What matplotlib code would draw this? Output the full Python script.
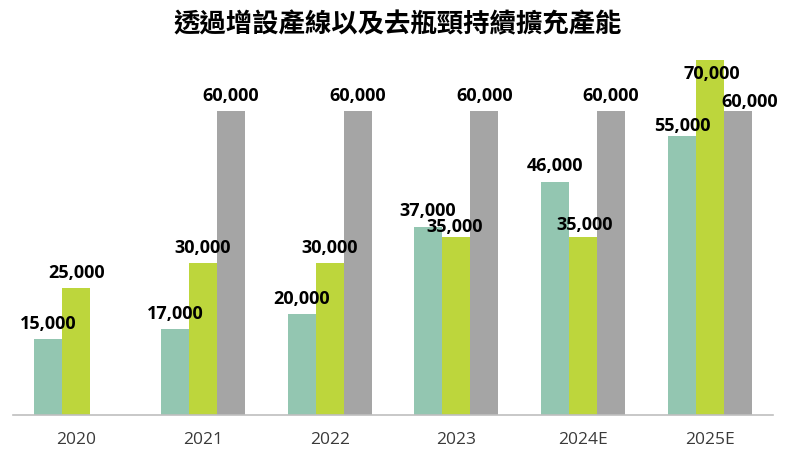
import numpy as np
import matplotlib
matplotlib.use('Agg')
import matplotlib.pyplot as plt

# --- data ---
years = ['2020', '2021', '2022', '2023', '2024E', '2025E']
series_a = [15000, 17000, 20000, 37000, 46000, 55000]   # teal
series_b = [25000, 30000, 30000, 35000, 35000, 70000]   # lime
series_c = [np.nan, 60000, 60000, 60000, 60000, 60000]  # gray

colors = ['#93c6b1', '#bdd63c', '#a5a5a5']

# label nudges (pixels) where the labels were shifted in the original
label_nudge = {
    (0, 3): (-1, 16),
    (1, 3): (-2, 11),
    (0, 4): (0, 16),
    (1, 4): (2, 13),
    (0, 5): (1, 10),
    (1, 5): (2, -14),
    (2, 5): (12, 9),
}

fig = plt.figure(figsize=(8, 4.69), dpi=100)
ax = fig.add_axes([13 / 800, 54 / 469, 760 / 800, 355 / 469])

x = np.arange(len(years))
w = 0.221
all_series = [series_a, series_b, series_c]

for i, vals in enumerate(all_series):
    pos = x + (i - 1) * w
    ax.bar(pos, vals, width=w, color=colors[i], zorder=2)
    for j, v in enumerate(vals):
        if np.isnan(v):
            continue
        dx, dy = label_nudge.get((i, j), (0, 15))
        ax.annotate(f'{int(v):,}', (pos[j], v), xytext=(dx, dy),
                    textcoords='offset pixels', ha='center', va='center',
                    fontsize=13, fontweight='bold', family='Open Sans',
                    color='#000000', zorder=3, annotation_clip=False)

ax.set_xlim(-0.5, 5.5)
ax.set_ylim(0, 70000)
ax.set_yticks([])
ax.set_xticks(x)
ax.set_xticklabels(years, fontsize=12.5, family='Open Sans', color='#3a3a3a')
ax.tick_params(axis='x', length=0, pad=12)
for s in ['top', 'right', 'left']:
    ax.spines[s].set_visible(False)
ax.spines['bottom'].set_color('#bfbfbf')
ax.spines['bottom'].set_linewidth(1.2)
ax.spines['bottom'].set_zorder(3)

fig.text(0.497, 1 - 25 / 469, '透過增設產線以及去瓶頸持續擴充產能',
         ha='center', va='center', fontsize=19, fontweight='bold',
         family=['Noto Sans CJK TC', 'DejaVu Sans'], color='#000000')

fig.savefig('out.png', dpi=100)
